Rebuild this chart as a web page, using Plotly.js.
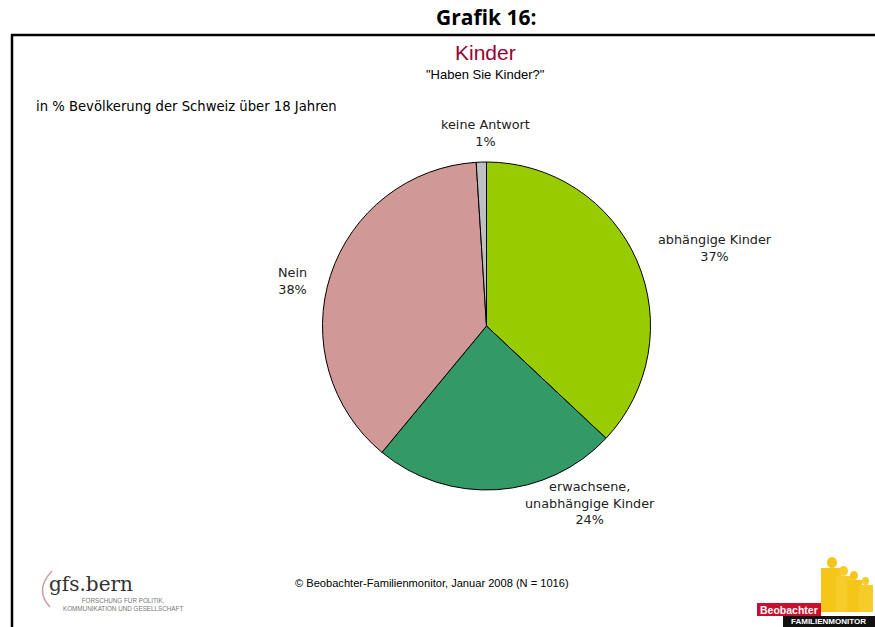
<!DOCTYPE html>
<html>
<head>
<meta charset="utf-8">
<script src="https://cdn.plot.ly/plotly-3.0.1.min.js"></script>
<style>html,body{margin:0;padding:0;background:#fff;}#chart{width:875px;height:627px;}</style>
</head>
<body>
<div id="chart"></div>
<script>
// ---- data ----
const categories = ["abhängige Kinder", "erwachsene, unabhängige Kinder", "Nein", "keine Antwort"];
const labelLines = ["abhängige Kinder", "erwachsene,<br>unabhängige Kinder", "Nein", "keine Antwort"];
const values = [37, 24, 38, 1];
const colors = ["#99CC00", "#339966", "#D09896", "#C0C0C0"];

const W = 875, H = 627;
const px = x => x / W;
const py = y => 1 - y / H;

// pie geometry (center 486,326 radius 164)
const cx = 486.5, cy = 326, r = 164;

const trace = {
  type: "pie",
  labels: categories,
  values: values,
  sort: false,
  direction: "clockwise",
  rotation: 0,
  marker: {colors: colors, line: {color: "#000000", width: 1}},
  textinfo: "none",
  hoverinfo: "label+percent",
  showlegend: false,
  domain: {x: [px(cx - r), px(cx + r)], y: [py(cy + r), py(cy - r)]}
};

// label positions (pixel) for each slice
const labelPos = [[715, 248], [590, 503], [292, 281], [486, 133]];
const labelFont = {family: "DejaVu Sans, Verdana, sans-serif", size: 12.8, color: "#222"};

const annotations = categories.map((c, i) => ({
  xref: "paper", yref: "paper",
  x: px(labelPos[i][0]), y: py(labelPos[i][1]),
  xanchor: "center", yanchor: "middle",
  text: labelLines[i] + "<br>" + values[i] + "%",
  showarrow: false, align: "center", font: labelFont
}));

const textAnn = (t, x, y, font, xa, ya) => ({
  xref: "paper", yref: "paper", x: px(x), y: py(y),
  xanchor: xa || "center", yanchor: ya || "middle",
  text: t, showarrow: false, font: font
});

annotations.push(
  textAnn("<b>Grafik 16:</b>", 486, 17, {family: "Open Sans, sans-serif", size: 21, color: "#000"}),
  textAnn("Kinder", 486, 52, {family: "Liberation Sans, Arial, sans-serif", size: 21, color: "#990033"}),
  textAnn("\"Haben Sie Kinder?\"", 486, 74, {family: "Liberation Sans, Arial, sans-serif", size: 13, color: "#000"}),
  textAnn("in % Bevölkerung der Schweiz über 18 Jahren", 34, 106, {family: "DejaVu Sans, Verdana, sans-serif", size: 13.2, color: "#000"}, "left"),
  textAnn("© Beobachter-Familienmonitor, Januar 2008 (N = 1016)", 432, 583, {family: "Liberation Sans, Arial, sans-serif", size: 11.1, color: "#000"}),
  // gfs.bern logo
  textAnn("gfs.bern", 47, 584, {family: "DejaVu Serif, serif", size: 20, color: "#333"}, "left"),
  textAnn("FORSCHUNG FÜR POLITIK,<br>KOMMUNIKATION UND GESELLSCHAFT", 61, 604, {family: "Liberation Sans, Arial, sans-serif", size: 6.3, color: "#777"}, "left"),
  // Beobachter logo text
  textAnn("<b>Beobachter</b>", 789, 610, {family: "Liberation Sans, Arial, sans-serif", size: 10.5, color: "#fff"}),
  textAnn("<b>FAMILIENMONITOR</b>", 828, 621, {family: "Liberation Sans, Arial, sans-serif", size: 8, color: "#fff"})
);

const shapes = [
  // frame
  {type: "line", xref: "paper", yref: "paper", x0: px(11), x1: px(875), y0: py(35), y1: py(35), line: {color: "#000", width: 2.5}},
  {type: "line", xref: "paper", yref: "paper", x0: px(12), x1: px(12), y0: py(34), y1: py(627), line: {color: "#000", width: 2.5}},
  // gfs bracket arc
  {type: "path", xref: "paper", yref: "paper",
   path: `M ${px(52)},${py(571)} Q ${px(34)},${py(590)} ${px(50)},${py(607)}`,
   line: {color: "#c9a0a8", width: 1.5}},
  // Beobachter yellow figures
  {type: "circle", xref: "paper", yref: "paper", x0: px(827), x1: px(837), y0: py(568), y1: py(557), fillcolor: "#F5C518", line: {width: 0}},
  {type: "rect", xref: "paper", yref: "paper", x0: px(821), x1: px(841), y0: py(612), y1: py(568), fillcolor: "#F5C518", line: {width: 0}},
  {type: "circle", xref: "paper", yref: "paper", x0: px(839), x1: px(848), y0: py(576), y1: py(566), fillcolor: "#F7CC2A", line: {width: 0}},
  {type: "rect", xref: "paper", yref: "paper", x0: px(836), x1: px(852), y0: py(612), y1: py(576), fillcolor: "#F7CC2A", line: {width: 0}},
  {type: "circle", xref: "paper", yref: "paper", x0: px(850), x1: px(858), y0: py(580), y1: py(571), fillcolor: "#F5C518", line: {width: 0}},
  {type: "rect", xref: "paper", yref: "paper", x0: px(847), x1: px(862), y0: py(612), y1: py(580), fillcolor: "#F5C518", line: {width: 0}},
  {type: "circle", xref: "paper", yref: "paper", x0: px(862), x1: px(869), y0: py(585), y1: py(577), fillcolor: "#F7CC2A", line: {width: 0}},
  {type: "rect", xref: "paper", yref: "paper", x0: px(859), x1: px(873), y0: py(612), y1: py(585), fillcolor: "#F7CC2A", line: {width: 0}},
  // Beobachter red box and black bar
  {type: "rect", xref: "paper", yref: "paper", x0: px(757), x1: px(821), y0: py(616), y1: py(603), fillcolor: "#C8102E", line: {width: 0}},
  {type: "rect", xref: "paper", yref: "paper", x0: px(783), x1: px(875), y0: py(627), y1: py(616), fillcolor: "#111", line: {width: 0}}
];

const layout = {
  width: W, height: H,
  margin: {l: 0, r: 0, t: 0, b: 0},
  paper_bgcolor: "#fff", plot_bgcolor: "#fff",
  showlegend: false,
  annotations: annotations,
  shapes: shapes
};

Plotly.newPlot("chart", [trace], layout, {staticPlot: true, displayModeBar: false});
</script>
</body>
</html>
